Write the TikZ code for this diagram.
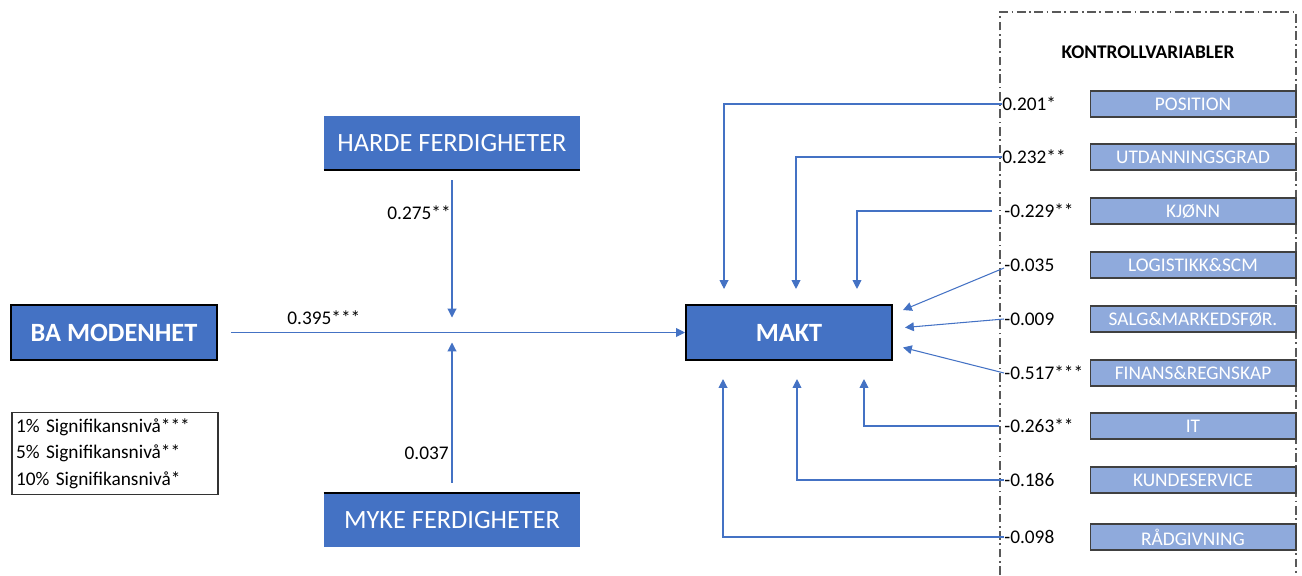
\documentclass[tikz,border=0pt]{standalone}
\usepackage{fontspec}
\setmainfont{Carlito}
\usetikzlibrary{arrows.meta,positioning,calc}
\definecolor{mblue}{HTML}{4472C4}
\definecolor{lblue}{HTML}{8FAADC}
\tikzset{hub/.style={draw=black,line width=1.2pt,fill=mblue,text=white,font=\fontsize{15}{18}\selectfont\bfseries,minimum width=4.12cm,minimum height=1.1cm},
 skill/.style={fill=mblue,text=white,font=\fontsize{15}{18}\selectfont,minimum width=5.12cm,minimum height=1.08cm},
 ctrl/.style={draw=black!75,line width=0.6pt,fill=lblue,text=white,font=\fontsize{11}{13}\selectfont,minimum width=4.12cm,minimum height=0.52cm,inner sep=0pt},
 coef/.style={font=\fontsize{11}{13}\selectfont,inner sep=0pt},
 flow/.style={-{Triangle[length=5pt,width=5pt]},draw=mblue,line width=0.6pt},
 frame/.style={draw=black!65,line width=0.7pt,dash pattern=on 5pt off 2pt on 1pt off 2pt}}

\begin{document}
\begin{tikzpicture}[x=0.02cm,y=-0.02cm]
\useasboundingbox (0,0) rectangle (1302,575);
% main model
\node[hub] (ba) at (114,332.5) {BA MODENHET};
\node[hub] (makt) at (789,332.5) {MAKT};
\node[skill] (harde) at (452,143) {HARDE FERDIGHETER};
\draw[line width=1.2pt] (harde.south west)--(harde.south east);
\node[skill] (myke) at (452,520) {MYKE FERDIGHETER};
\draw[line width=1.2pt] (myke.north west)--(myke.north east);
\coordinate (jn) at (harde.south |- makt.west);
\draw[flow] ([xshift=0.26cm]ba.east)--(makt.west);
\draw[flow,shorten >=0.3cm] ([yshift=-0.2cm]harde.south)--(jn);
\draw[flow,shorten >=0.2cm] ([yshift=0.2cm]myke.north)--(jn);
\node[coef,anchor=west] (b1) at (287,318) {0.395***};
\node[coef,anchor=east] (b2) at (451,213) {0.275**};
\node[coef,anchor=east] (b3) at (449,453) {0.037};
% legend
\node[draw=black!80,line width=0.6pt,minimum width=4.12cm,minimum height=1.62cm,text width=3.96cm,inner xsep=0.08cm,align=left,font=\fontsize{11}{15}\selectfont] (legend) at (115,453.5) {1\% Signifikansnivå***\\5\% Signifikansnivå**\\10\% Signifikansnivå*};
% control variables
\draw[frame] (1000,575) |- (1296,12) -- (1296,575);
\node[font=\fontsize{11}{13}\selectfont\bfseries] (kv) at (1148,52) {KONTROLLVARIABLER};
\node[ctrl] (k1) at (1193,104) {POSITION};
\node[ctrl] (k2) at (1193,157) {UTDANNINGSGRAD};
\node[ctrl] (k3) at (1193,211) {KJØNN};
\node[ctrl] (k4) at (1193,265) {LOGISTIKK\&SCM};
\node[ctrl] (k5) at (1193,319) {SALG\&MARKEDSFØR.};
\node[ctrl] (k6) at (1193,373) {FINANS\&REGNSKAP};
\node[ctrl] (k7) at (1193,426) {IT};
\node[ctrl] (k8) at (1193,480) {KUNDESERVICE};
\node[ctrl] (k9) at (1193,537) {RÅDGIVNING};
\node[coef,anchor=west] (c1) at (1002,104) {0.201*};
\node[coef,anchor=west] (c2) at (1002,157) {0.232**};
\node[coef,anchor=west] (c3) at (1004,211) {-0.229**};
\node[coef,anchor=west] (c4) at (1004,265) {-0.035};
\node[coef,anchor=west] (c5) at (1004,319) {-0.009};
\node[coef,anchor=west] (c6) at (1004,373) {-0.517***};
\node[coef,anchor=west] (c7) at (1004,426) {-0.263**};
\node[coef,anchor=west] (c8) at (1004,480) {-0.186};
\node[coef,anchor=west] (c9) at (1004,537) {-0.098};
% effects on MAKT
\draw[flow,shorten >=0.3cm] (c1.west) -| ([xshift=-1.3cm]makt.north);
\draw[flow,shorten >=0.3cm] (c2.west) -| ([xshift=0.14cm]makt.north);
\draw[flow,shorten >=0.3cm] ([xshift=-0.24cm]c3.west) -| ([xshift=1.36cm]makt.north);
\draw[flow] ([yshift=-0.06cm]c4.west) -- ([xshift=0.2cm,yshift=0.45cm]makt.east);
\draw[flow] (c5.west) -- ([xshift=0.24cm,yshift=0.1cm]makt.east);
\draw[flow] (c6.west) -- ([xshift=0.2cm,yshift=-0.3cm]makt.east);
\draw[flow,shorten >=0.36cm] ([xshift=-0.1cm]c7.west) -| ([xshift=1.5cm]makt.south);
\draw[flow,shorten >=0.36cm] (c8.west) -| ([xshift=0.16cm]makt.south);
\draw[flow,shorten >=0.36cm] (c9.west) -| ([xshift=-1.32cm]makt.south);
\end{tikzpicture}
\end{document}
